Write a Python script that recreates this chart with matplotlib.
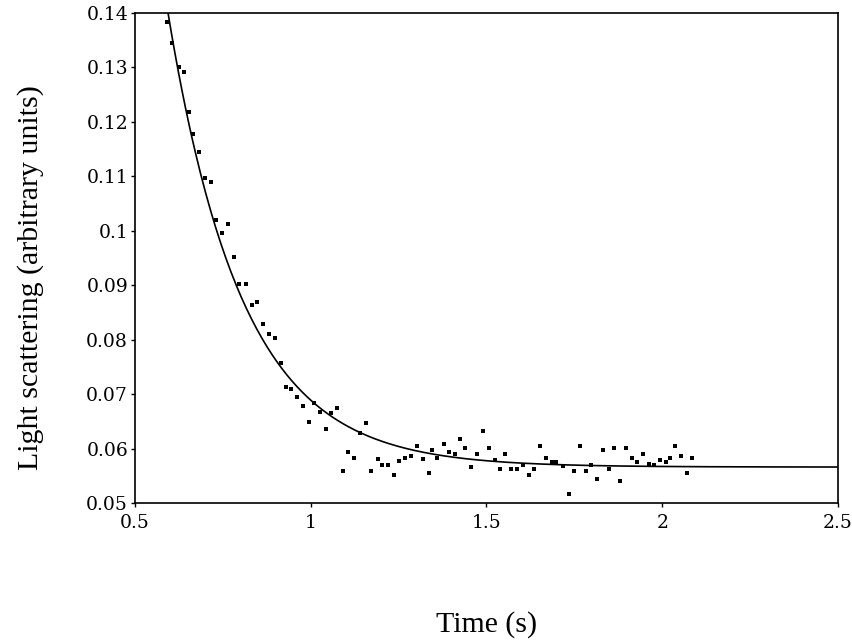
import numpy as np
import matplotlib
matplotlib.use("Agg")
import matplotlib.pyplot as plt

time_s = [0.591, 0.605, 0.625, 0.640, 0.654, 0.665, 0.682, 0.699, 0.717, 0.731,
          0.748, 0.765, 0.782, 0.796, 0.816, 0.833, 0.848, 0.865, 0.882, 0.899,
          0.916, 0.930, 0.944, 0.962, 0.979, 0.996, 1.010, 1.027, 1.044, 1.058,
          1.076, 1.093, 1.107, 1.124, 1.141, 1.158, 1.172, 1.190, 1.204, 1.221,
          1.238, 1.252, 1.269, 1.286, 1.301, 1.318, 1.335, 1.346, 1.360, 1.378,
          1.392, 1.409, 1.426, 1.440, 1.457, 1.474, 1.489, 1.506, 1.523, 1.537,
          1.554, 1.571, 1.586, 1.603, 1.620, 1.634, 1.651, 1.668, 1.685, 1.699,
          1.717, 1.734, 1.748, 1.765, 1.782, 1.796, 1.813, 1.831, 1.848, 1.862,
          1.879, 1.896, 1.913, 1.927, 1.944, 1.962, 1.976, 1.993, 2.010, 2.021,
          2.036, 2.053, 2.070, 2.084]
scatter = [0.1384, 0.1345, 0.1301, 0.1292, 0.1218, 0.1178, 0.1145, 0.1097, 0.1090, 0.1020,
           0.0996, 0.1012, 0.0952, 0.0902, 0.0902, 0.0864, 0.0869, 0.0829, 0.0810, 0.0803,
           0.0757, 0.0713, 0.0709, 0.0695, 0.0678, 0.0649, 0.0684, 0.0667, 0.0636, 0.0665,
           0.0674, 0.0559, 0.0594, 0.0583, 0.0629, 0.0647, 0.0559, 0.0581, 0.0570, 0.0570,
           0.0551, 0.0577, 0.0583, 0.0586, 0.0605, 0.0581, 0.0555, 0.0597, 0.0583, 0.0608,
           0.0594, 0.0590, 0.0618, 0.0601, 0.0566, 0.0590, 0.0632, 0.0601, 0.0579, 0.0562,
           0.0590, 0.0562, 0.0562, 0.0570, 0.0551, 0.0562, 0.0605, 0.0583, 0.0575, 0.0575,
           0.0568, 0.0517, 0.0559, 0.0605, 0.0559, 0.0570, 0.0544, 0.0597, 0.0562, 0.0601,
           0.0540, 0.0601, 0.0583, 0.0575, 0.0590, 0.0572, 0.0570, 0.0579, 0.0575, 0.0583,
           0.0605, 0.0586, 0.0555, 0.0583]

# single exponential fit
fit_offset = 0.0566
fit_amp = 0.0834
fit_t0 = 0.594
fit_tau = 0.212

xticks = [0.5, 1, 1.5, 2, 2.5]
xtick_labels = ["0.5", "1", "1.5", "2", "2.5"]
yticks = [0.05, 0.06, 0.07, 0.08, 0.09, 0.1, 0.11, 0.12, 0.13, 0.14]
ytick_labels = ["0.05", "0.06", "0.07", "0.08", "0.09", "0.1", "0.11", "0.12", "0.13", "0.14"]

fig = plt.figure(figsize=(8.53, 6.43), dpi=100)
ax = fig.add_axes([135/853, 1-503/643, (838-135)/853, (503-13)/643])

t_fit = np.linspace(0.57, 2.5, 400)
y_fit = fit_offset + fit_amp*np.exp(-(t_fit-fit_t0)/fit_tau)
ax.plot(t_fit, y_fit, color="black", lw=1.2)
ax.plot(time_s, scatter, "s", color="black", ms=3.0, mew=0)

ax.set_xlim(0.5, 2.5)
ax.set_ylim(0.05, 0.14)
ax.set_xticks(xticks)
ax.set_xticklabels(xtick_labels)
ax.set_yticks(yticks)
ax.set_yticklabels(ytick_labels)

for s in ax.spines.values():
    s.set_linewidth(1.2)
ax.tick_params(direction="out", length=3, width=1.0, labelsize=13.5, pad=2)
ax.tick_params(axis="x", pad=5)
for lab in ax.get_xticklabels() + ax.get_yticklabels():
    lab.set_family("DejaVu Serif")

ax.set_ylabel("Light scattering (arbitrary units)", family="Liberation Serif", fontsize=21.5)
ax.yaxis.set_label_coords(-0.13, 0.46)
ax.set_xlabel("Time (s)", family="Liberation Serif", fontsize=21.5)
ax.xaxis.set_label_coords(0.5, -0.22)

fig.savefig("out.png", dpi=100)
